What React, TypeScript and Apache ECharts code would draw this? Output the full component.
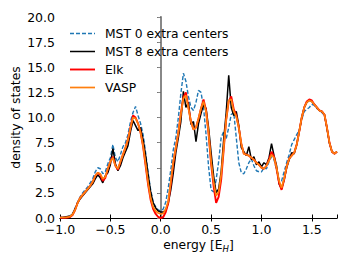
import React, { useEffect, useRef } from "react";
import * as echarts from "echarts";

const energy: number[] = Array.from({ length: 111 }, (_, i) => Math.round((-1 + 0.025 * i) * 1000) / 1000);

const mst0: number[] = [
  0.05, 0.05, 0.05, 0.1, 0.2, 0.4, 1.0, 1.6, 2.1, 2.5,
  2.8, 3.1, 3.5, 3.9, 4.6, 5.0, 4.9, 4.4, 4.6, 5.4,
  6.0, 7.3, 6.0, 5.6, 6.3, 7.1, 7.5, 8.3, 9.6, 10.5,
  11.1, 10.2, 9.4, 8.3, 6.5, 4.5, 2.8, 1.6, 1.1, 0.8,
  0.7, 0.9, 1.6, 3.0, 4.8, 6.8, 8.0, 10.0, 12.4, 14.4,
  13.6, 12.1, 11.0, 10.7, 11.5, 12.7, 12.5, 11.0, 8.3, 5.1,
  2.8, 2.6, 3.8, 5.6, 8.0, 8.6, 7.9, 9.0, 10.3, 10.5,
  8.0, 5.5, 4.5, 4.4, 4.9, 5.5, 5.9, 5.2, 4.7, 4.6,
  4.6, 5.0, 4.9, 5.6, 6.1, 5.8, 4.8, 3.8, 3.7, 4.6,
  5.5, 6.3, 7.3, 7.8, 8.3, 8.7, 9.8, 10.6, 10.8, 11.0,
  11.3, 11.2, 10.9, 10.7, 10.5, 10.2, 8.9, 7.4, 6.6, 6.4,
  6.6,
];

const mst8: number[] = [
  0.05, 0.05, 0.1, 0.15, 0.2, 0.4, 0.9, 1.5, 1.9, 2.2,
  2.5, 2.8, 3.1, 3.4, 3.9, 4.3, 4.0, 3.5, 4.2, 4.5,
  5.3, 6.9, 5.4, 4.7, 5.2, 6.0, 6.6, 7.2, 8.6, 9.7,
  9.2, 8.7, 9.0, 7.8, 6.2, 4.3, 2.6, 1.5, 1.0, 0.7,
  0.6, 0.6, 0.8, 1.5, 2.8, 4.5, 6.5, 8.0, 9.6, 12.6,
  11.0, 11.5, 9.3, 9.6, 7.6, 9.4, 10.4, 11.3, 10.9, 9.0,
  6.5, 4.2, 2.5, 2.9, 4.6, 7.8, 10.5, 14.2, 11.0, 10.2,
  10.6, 9.2, 7.0, 6.6, 6.2, 7.1, 5.8, 6.1, 5.3, 5.6,
  5.1, 5.5, 5.3, 6.0, 7.4, 6.2, 5.2, 3.4, 2.9, 3.8,
  5.0, 5.8, 6.5, 6.4, 7.3, 8.6, 10.0, 11.0, 11.5, 11.7,
  11.6, 11.3, 11.0, 10.7, 10.6, 10.3, 9.0, 7.5, 6.6, 6.4,
  6.6,
];

const elk: number[] = [
  0.02, 0.02, 0.02, 0.05, 0.1, 0.3, 0.8, 1.5, 2.0, 2.3,
  2.6, 2.9, 3.2, 3.6, 4.2, 4.5, 4.3, 3.7, 4.0, 4.9,
  5.6, 6.1, 5.2, 4.8, 5.6, 6.3, 7.0, 7.8, 9.0, 10.2,
  10.0, 9.4, 8.5, 7.1, 5.2, 3.3, 1.8, 0.9, 0.4, 0.1,
  0.0, 0.1, 0.6, 1.5, 3.4, 5.5, 7.0, 8.5, 10.4, 12.0,
  12.5, 11.0, 9.6, 8.8, 9.0, 9.9, 10.9, 11.8, 10.7, 8.4,
  5.4, 3.2, 1.5, 2.1, 3.8, 6.8, 9.8, 11.6, 12.1, 10.8,
  10.2, 9.0, 7.4, 6.4, 6.3, 6.2, 6.0, 5.8, 5.5, 5.3,
  5.0, 4.9, 5.2, 5.8, 6.6, 6.1, 4.9, 3.5, 2.8, 3.8,
  5.1, 5.9, 6.2, 6.5, 7.3, 8.6, 10.0, 11.0, 11.6, 11.8,
  11.7, 11.3, 11.0, 10.7, 10.6, 10.3, 9.0, 7.5, 6.6, 6.4,
  6.6,
];

const vasp: number[] = [
  0.05, 0.05, 0.05, 0.08, 0.15, 0.35, 0.8, 1.5, 2.0, 2.3,
  2.6, 2.9, 3.2, 3.6, 4.2, 4.5, 4.4, 3.9, 4.1, 4.9,
  5.6, 6.0, 5.2, 4.9, 5.6, 6.3, 7.0, 7.8, 9.0, 10.0,
  9.9, 9.4, 8.5, 7.2, 5.4, 3.5, 2.0, 1.1, 0.7, 0.5,
  0.4, 0.45, 0.9, 1.7, 3.6, 5.6, 7.0, 8.5, 10.3, 11.9,
  12.2, 10.9, 9.6, 8.8, 9.0, 9.9, 10.9, 11.6, 10.6, 8.5,
  5.6, 3.6, 2.2, 2.6, 4.3, 7.0, 9.8, 11.7, 11.8, 10.6,
  10.1, 9.0, 7.4, 6.4, 6.3, 6.2, 6.0, 5.8, 5.5, 5.3,
  5.0, 4.9, 5.2, 5.7, 6.3, 6.0, 5.0, 3.7, 3.0, 3.9,
  5.1, 5.9, 6.2, 6.5, 7.3, 8.6, 10.0, 11.0, 11.5, 11.7,
  11.6, 11.3, 11.0, 10.7, 10.6, 10.3, 9.0, 7.5, 6.6, 6.4,
  6.6,
];

const seriesNames = ["MST 0 extra centers", "MST 8 extra centers", "Elk", "VASP"];
const xTickMin = -1.0;
const xTickMax = 1.75;
const yTickMin = 0;
const yTickMax = 20;

const FONT = "DejaVu Sans";
const FS = 12.3;

const fmtX = (v: number) => (v < 0 ? "\u2212" + Math.abs(v).toFixed(1) : v.toFixed(1));

export default function App() {
  const ref = useRef<HTMLDivElement>(null);
  useEffect(() => {
    if (!ref.current) return;
    const chart = echarts.init(ref.current, undefined, { renderer: "svg" });
    const pairs = (vals: number[]) => energy.map((e, i) => [e, vals[i]]);
    const colors = ["#1f77b4", "#000000", "#ff0000", "#ff7f0e"];
    const widths = [1.4, 1.5, 1.9, 1.7];
    const datas = [mst0, mst8, elk, vasp];
    const legendRowY = [33.5, 51.5, 69.5, 87.5];
    const legendGraphics: any[] = [];
    seriesNames.forEach((name, k) => {
      legendGraphics.push({
        type: "line",
        shape: { x1: 70, y1: legendRowY[k], x2: 95, y2: legendRowY[k] },
        style: { stroke: colors[k], lineWidth: widths[k], lineDash: k === 0 ? [4, 2] : null },
        z: 10,
      });
      legendGraphics.push({
        type: "text",
        x: 105,
        y: legendRowY[k],
        style: { text: name, fill: "#000", font: `${FS}px "${FONT}"`, verticalAlign: "middle", align: "left" },
        z: 10,
      });
    });
    chart.setOption({
      animation: false,
      backgroundColor: "#ffffff",
      textStyle: { fontFamily: FONT },
      grid: { left: 60, right: 15, top: 17, bottom: 46, containLabel: false },
      graphic: legendGraphics,
      xAxis: [
        {
          type: "value",
          min: xTickMin,
          max: xTickMax,
          interval: 0.5,
          name: "energy [E{sub|H}]",
          nameLocation: "middle",
          nameGap: 19,
          nameMoveOverlap: false,
          nameTextStyle: {
            fontFamily: FONT,
            fontSize: FS,
            color: "#000",
            rich: {
              sub: { fontFamily: FONT, fontSize: 8.5, fontStyle: "italic", verticalAlign: "bottom", padding: [7, 0, 0, 0], color: "#000" },
            },
          },
          axisLine: { show: true, onZero: false, lineStyle: { color: "#000", width: 1 } },
          axisTick: { show: true, inside: false, length: 3.5, lineStyle: { color: "#000" } },
          axisLabel: { fontFamily: FONT, fontSize: 12.5, color: "#000", margin: 5, formatter: fmtX, showMaxLabel: false },
          splitLine: { show: false },
        },
        {
          type: "value",
          position: "top",
          min: xTickMin,
          max: xTickMax,
          interval: 0.5,
          axisLine: { show: true, lineStyle: { color: "#000", width: 1 } },
          axisTick: { show: true, inside: false, length: 3.5, lineStyle: { color: "#000" } },
          axisLabel: { show: false },
          splitLine: { show: false },
        },
      ],
      yAxis: [
        {
          type: "value",
          min: yTickMin,
          max: yTickMax,
          interval: 2.5,
          name: "density of states",
          nameLocation: "middle",
          nameGap: 38,
          nameMoveOverlap: false,
          nameTextStyle: { fontFamily: FONT, fontSize: FS, color: "#000" },
          axisLine: { show: true, lineStyle: { color: "#000", width: 1 } },
          axisTick: { show: true, inside: false, length: 3.5, lineStyle: { color: "#000" } },
          axisLabel: { fontFamily: FONT, fontSize: 12.5, color: "#000", margin: 5, formatter: (v: number) => v.toFixed(1) },
          splitLine: { show: false },
        },
        {
          type: "value",
          position: "right",
          min: yTickMin,
          max: yTickMax,
          interval: 2.5,
          axisLine: { show: true, lineStyle: { color: "#888", width: 2 } },
          axisTick: { show: true, inside: true, length: 3.5, lineStyle: { color: "#888" } },
          axisLabel: { show: false },
          splitLine: { show: false },
        },
      ],
      series: seriesNames.map((name, k) => ({
        name,
        type: "line",
        data: pairs(datas[k]),
        symbol: "none",
        showSymbol: false,
        smooth: false,
        color: colors[k],
        lineStyle: { color: colors[k], width: widths[k], type: k === 0 ? [4, 2] : "solid" },
        z: 2 + k,
      })),
    });
    return () => chart.dispose();
  }, []);
  return <div ref={ref} style={{ width: 352, height: 264, position: "absolute", left: 0, top: 0 }} />;
}
